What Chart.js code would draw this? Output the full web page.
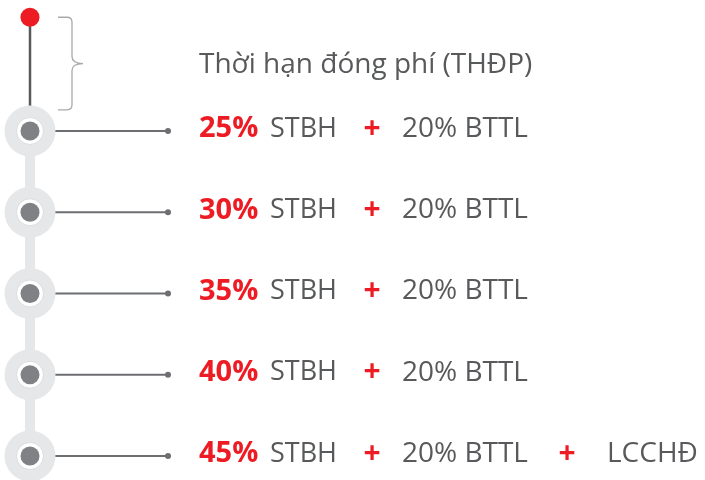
<!DOCTYPE html>
<html>
<head>
<meta charset="utf-8">
<script src="https://cdn.jsdelivr.net/npm/chart.js@4"></script>
<style>
  body { margin: 0; background: #fff; }
  #wrap { width: 705px; height: 480px; }
</style>
</head>
<body>
<div id="wrap"><canvas id="myChart" width="705" height="480"></canvas></div>
<script>
// data
const title = 'Thời hạn đóng phí (THĐP)';
const percents = ['25%', '30%', '35%', '40%', '45%'];
const baseLabel = ['STBH', 'STBH', 'STBH', 'STBH', 'STBH'];
const bonusLabel = ['20% BTTL', '20% BTTL', '20% BTTL', '20% BTTL', '20% BTTL'];
const extraLabel = [null, null, null, null, 'LCCHĐ'];
const steps = [0, 1, 2, 3, 4];
const startStep = -1.4;   // red start dot, above first step
const titleStep = -0.83;

// colours
const RED = '#ed1c24';
const TEXT = '#58595b';
const RING = '#e6e7e8';
const DARK = '#808184';
const LINE = '#6d6e71';

const AXIS_X = 30;
const LINE_END = 168;

let stepPoints = steps.map(s => ({ x: AXIS_X, y: s }));
let connectors = [];
steps.forEach(s => {
    connectors.push({ x: AXIS_X + 24, y: s }, { x: LINE_END, y: s }, { x: null, y: null });
});
let lineEnds = steps.map(s => ({ x: LINE_END, y: s }));

const textPlugin = {
    id: 'textPlugin',
    afterDatasetsDraw(chart) {
        let c = chart.ctx;
        let xs = chart.scales.x, ys = chart.scales.y;
        c.save();
        // bracket
        let top = ys.getPixelForValue(startStep);
        let bot = ys.getPixelForValue(-0.26);
        let mid = ys.getPixelForValue(titleStep);
        let x0 = xs.getPixelForValue(58), x1 = xs.getPixelForValue(72), x2 = xs.getPixelForValue(83);
        c.strokeStyle = '#a7a9ac';
        c.lineWidth = 1.3;
        c.beginPath();
        c.moveTo(x0, top);
        c.lineTo(x1 - 5, top);
        c.quadraticCurveTo(x1, top, x1, top + 5);
        c.lineTo(x1, mid - 7);
        c.quadraticCurveTo(x1, mid, x2, mid);
        c.quadraticCurveTo(x1, mid, x1, mid + 7);
        c.lineTo(x1, bot - 5);
        c.quadraticCurveTo(x1, bot, x1 - 5, bot);
        c.lineTo(x0, bot);
        c.stroke();

        c.textBaseline = 'middle';
        c.textAlign = 'left';
        c.fillStyle = TEXT;
        c.font = '28px "Open Sans"';
        c.fillText(title, xs.getPixelForValue(199), ys.getPixelForValue(titleStep) + 1);

        steps.forEach((s, i) => {
            let y = ys.getPixelForValue(s) - 2;
            c.font = 'bold 29px "Open Sans"';
            c.fillStyle = RED;
            c.fillText(percents[i], xs.getPixelForValue(199), y);
            c.font = '27px "Open Sans"';
            c.fillStyle = TEXT;
            c.fillText(baseLabel[i], xs.getPixelForValue(270), y);
            c.font = 'bold 30px "Open Sans"';
            c.fillStyle = RED;
            c.textAlign = 'center';
            c.fillText('+', xs.getPixelForValue(372), y);
            c.textAlign = 'left';
            c.font = '28px "Open Sans"';
            c.fillStyle = TEXT;
            c.fillText(bonusLabel[i], xs.getPixelForValue(402), y);
            if (extraLabel[i]) {
                c.font = 'bold 30px "Open Sans"';
                c.fillStyle = RED;
                c.textAlign = 'center';
                c.fillText('+', xs.getPixelForValue(567), y);
                c.textAlign = 'left';
                c.font = '28px "Open Sans"';
                c.fillStyle = TEXT;
                c.fillText(extraLabel[i], xs.getPixelForValue(607), y);
            }
        });
        c.restore();
    }
};

let ctx = document.getElementById('myChart');
let myChart = new Chart(ctx, {
    type: 'scatter',
    data: {
        datasets: [{
            // red start dot
            data: [{ x: AXIS_X, y: startStep }],
            pointRadius: 9.5,
            pointBackgroundColor: RED,
            pointBorderWidth: 0,
            order: 1
        }, {
            // inner dark dots
            data: stepPoints,
            pointRadius: 9.5,
            pointBackgroundColor: DARK,
            pointBorderWidth: 0,
            order: 2
        }, {
            // white inner ring
            data: stepPoints,
            pointRadius: 13.5,
            pointBackgroundColor: '#ffffff',
            pointBorderColor: '#dcdddf',
            pointBorderWidth: 1,
            order: 3
        }, {
            // outer grey ring
            data: stepPoints,
            pointRadius: 25.5,
            pointBackgroundColor: RING,
            pointBorderWidth: 0,
            order: 4
        }, {
            // grey spine between steps
            data: [{ x: AXIS_X, y: steps[0] }, { x: AXIS_X, y: steps[steps.length - 1] }],
            showLine: true,
            borderColor: RING,
            borderWidth: 10,
            pointRadius: 0,
            order: 5
        }, {
            // dark stem from start dot to first step
            data: [{ x: AXIS_X, y: startStep }, { x: AXIS_X, y: steps[0] }],
            showLine: true,
            borderColor: '#58595b',
            borderWidth: 2.5,
            pointRadius: 0,
            order: 6
        }, {
            // connector lines to labels
            data: connectors,
            showLine: true,
            spanGaps: false,
            borderColor: LINE,
            borderWidth: 2,
            pointRadius: 0,
            order: 7
        }, {
            data: lineEnds,
            pointRadius: 3,
            pointBackgroundColor: LINE,
            pointBorderWidth: 0,
            order: 0
        }]
    },
    options: {
        responsive: false,
        animation: false,
        devicePixelRatio: 1,
        clip: false,
        layout: { padding: 0, autoPadding: false },
        plugins: { legend: { display: false }, tooltip: { enabled: false } },
        scales: {
            x: { type: 'linear', display: false, min: 0, max: 705 },
            y: { type: 'linear', display: false, reverse: true, min: -1.612, max: 4.295 }
        }
    },
    plugins: [textPlugin]
});
</script>
</body>
</html>
